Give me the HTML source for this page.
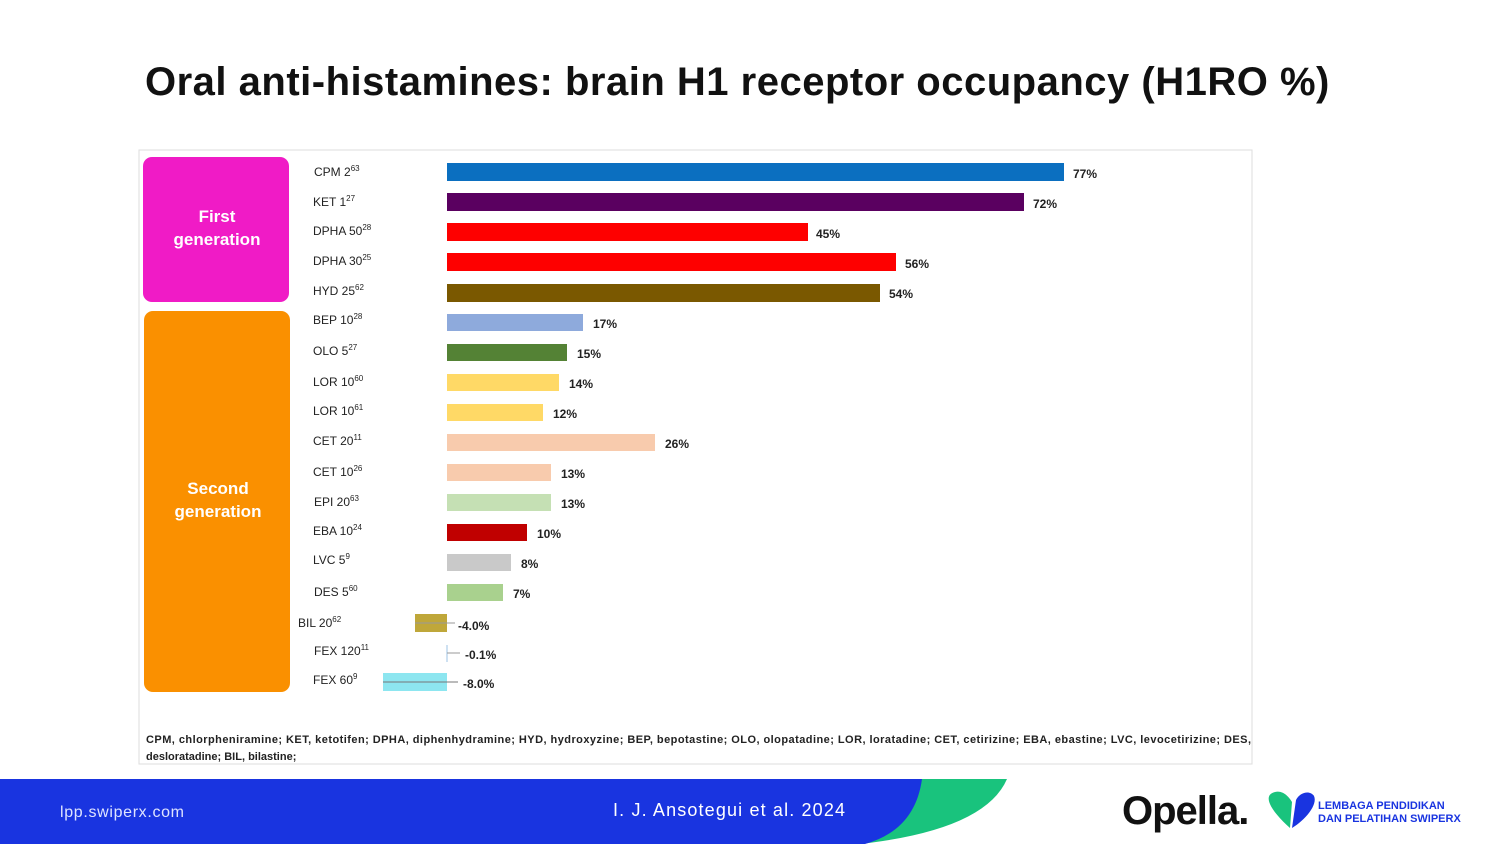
<!DOCTYPE html>
<html><head><meta charset="utf-8"><style>
body{margin:0;width:1500px;height:844px;background:#fff;overflow:hidden;position:relative;font-family:"Liberation Sans",sans-serif}
h1{position:absolute;left:145px;top:60px;margin:0;font-size:40px;font-weight:bold;color:#111;letter-spacing:0.5px}
</style></head><body>
<h1>Oral anti-histamines: brain H1 receptor occupancy (H1RO %)</h1>
<svg width="1500" height="844" style="position:absolute;left:0;top:0" font-family="Liberation Sans, DejaVu Sans, sans-serif">
<rect x="139" y="150" width="1113" height="614" fill="#fff" stroke="#ddd"/>
<rect x="143" y="157" width="146" height="145" rx="9" fill="#f01bc6"/>
<rect x="144" y="311" width="146" height="381" rx="9" fill="#fa9000"/>
<text x="217" y="222" fill="#fff" font-size="17" font-weight="bold" text-anchor="middle">First</text>
<text x="217" y="245" fill="#fff" font-size="17" font-weight="bold" text-anchor="middle">generation</text>
<text x="218" y="494" fill="#fff" font-size="17" font-weight="bold" text-anchor="middle">Second</text>
<text x="218" y="517" fill="#fff" font-size="17" font-weight="bold" text-anchor="middle">generation</text>
<g font-size="12" fill="#222">
<text x="314" y="176">CPM 2<tspan dy="-5" font-size="8">63</tspan></text>
<text x="313" y="206">KET 1<tspan dy="-5" font-size="8">27</tspan></text>
<text x="313" y="235">DPHA 50<tspan dy="-5" font-size="8">28</tspan></text>
<text x="313" y="265">DPHA 30<tspan dy="-5" font-size="8">25</tspan></text>
<text x="313" y="295">HYD 25<tspan dy="-5" font-size="8">62</tspan></text>
<text x="313" y="324">BEP 10<tspan dy="-5" font-size="8">28</tspan></text>
<text x="313" y="355">OLO 5<tspan dy="-5" font-size="8">27</tspan></text>
<text x="313" y="386">LOR 10<tspan dy="-5" font-size="8">60</tspan></text>
<text x="313" y="415">LOR 10<tspan dy="-5" font-size="8">61</tspan></text>
<text x="313" y="445">CET 20<tspan dy="-5" font-size="8">11</tspan></text>
<text x="313" y="476">CET 10<tspan dy="-5" font-size="8">26</tspan></text>
<text x="314" y="506">EPI 20<tspan dy="-5" font-size="8">63</tspan></text>
<text x="313" y="535">EBA 10<tspan dy="-5" font-size="8">24</tspan></text>
<text x="313" y="564">LVC 5<tspan dy="-5" font-size="8">9</tspan></text>
<text x="314" y="596">DES 5<tspan dy="-5" font-size="8">60</tspan></text>
<text x="298" y="627">BIL 20<tspan dy="-5" font-size="8">62</tspan></text>
<text x="314" y="655">FEX 120<tspan dy="-5" font-size="8">11</tspan></text>
<text x="313" y="684">FEX 60<tspan dy="-5" font-size="8">9</tspan></text>
</g>
<g>
<rect x="447" y="163" width="617" height="18" fill="#0b6fc0"/>
<rect x="447" y="193" width="577" height="18" fill="#5a0060"/>
<rect x="447" y="223" width="361" height="18" fill="#fe0000"/>
<rect x="447" y="253" width="449" height="18" fill="#fe0000"/>
<rect x="447" y="284" width="433" height="18" fill="#7a5800"/>
<rect x="447" y="314" width="136" height="17" fill="#8eaadc"/>
<rect x="447" y="344" width="120" height="17" fill="#548235"/>
<rect x="447" y="374" width="112" height="17" fill="#ffd966"/>
<rect x="447" y="404" width="96" height="17" fill="#ffd966"/>
<rect x="447" y="434" width="208" height="17" fill="#f8cbad"/>
<rect x="447" y="464" width="104" height="17" fill="#f8cbad"/>
<rect x="447" y="494" width="104" height="17" fill="#c5e0b4"/>
<rect x="447" y="524" width="80" height="17" fill="#c00000"/>
<rect x="447" y="554" width="64" height="17" fill="#c9c9c9"/>
<rect x="447" y="584" width="56" height="17" fill="#a9d18e"/>
<rect x="415" y="614" width="32" height="18" fill="#bfa73a"/>
<line x1="447" y1="645" x2="447" y2="662" stroke="#9dc3e6"/>
<rect x="383" y="673" width="64" height="18" fill="#8de6f0"/>
<line x1="415" y1="623" x2="455" y2="623" stroke="#999"/>
<line x1="447" y1="653" x2="460" y2="653" stroke="#999"/>
<line x1="383" y1="682" x2="458" y2="682" stroke="#777"/>
</g>
<g font-size="12" font-weight="bold" fill="#222">
<text x="1073" y="178">77%</text><text x="1033" y="208">72%</text><text x="816" y="238">45%</text>
<text x="905" y="268">56%</text><text x="889" y="298">54%</text><text x="593" y="328">17%</text>
<text x="577" y="358">15%</text><text x="569" y="388">14%</text><text x="553" y="418">12%</text>
<text x="665" y="448">26%</text><text x="561" y="478">13%</text><text x="561" y="508">13%</text>
<text x="537" y="538">10%</text><text x="521" y="568">8%</text><text x="513" y="598">7%</text>
<text x="458" y="630">-4.0%</text><text x="465" y="659">-0.1%</text><text x="463" y="688">-8.0%</text>
</g>
<text x="146" y="743" font-size="11" font-weight="bold" fill="#222" textLength="1105" lengthAdjust="spacing">CPM, chlorpheniramine;  KET, ketotifen; DPHA, diphenhydramine;  HYD, hydroxyzine; BEP, bepotastine; OLO, olopatadine; LOR, loratadine; CET, cetirizine; EBA, ebastine; LVC, levocetirizine; DES,</text>
<text x="146" y="760" font-size="11" font-weight="bold" fill="#222">desloratadine; BIL, bilastine;</text>
<path d="M860 844 Q 985 830 1007 779 L900 779 Z" fill="#19c37d"/>
<path d="M0 779 L922 779 Q 915 830 865 844 L0 844 Z" fill="#1934e0"/>
<text x="60" y="817" font-size="16" fill="#dfe4ff" textLength="124">lpp.swiperx.com</text>
<text x="613" y="816" font-size="18" fill="#fff" textLength="232">I. J. Ansotegui et al. 2024</text>
<text x="1122" y="824" font-size="40" font-weight="bold" fill="#111" letter-spacing="-1">Opella.</text>
<path d="M1290 828 C1270 810 1262 795 1275 792 C1283 790 1289 797 1292 802 Z" fill="#19c37d"/>
<path d="M1292 828 L1296 800 C1300 792 1310 790 1314 796 C1318 805 1305 820 1292 828 Z" fill="#1934e0"/>
<text x="1318" y="809" font-size="11" font-weight="bold" fill="#1934e0">LEMBAGA PENDIDIKAN</text>
<text x="1318" y="822" font-size="11" font-weight="bold" fill="#1934e0">DAN PELATIHAN SWIPERX</text>
</svg>
</body></html>
